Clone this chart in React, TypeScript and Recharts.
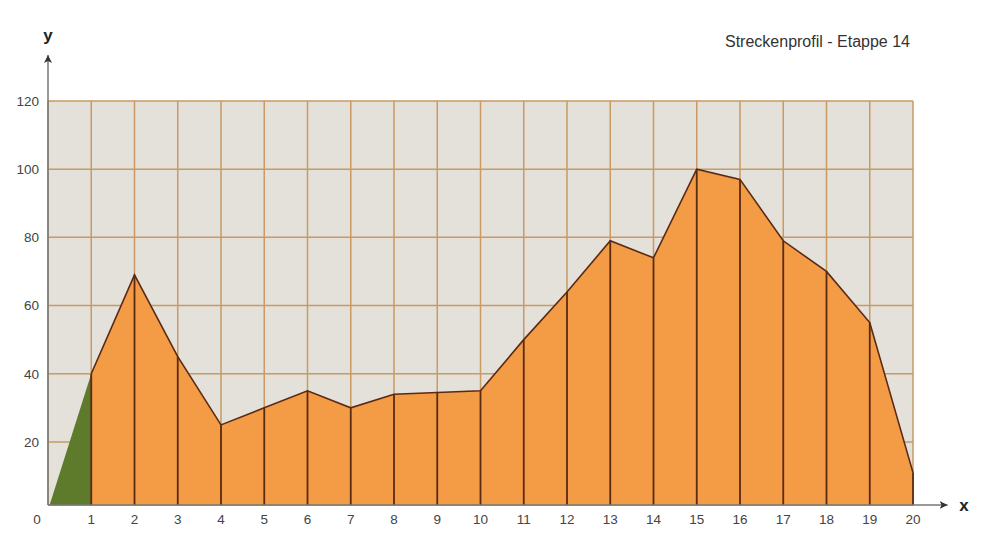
import React from 'react';
import {
  ComposedChart,
  Area,
  XAxis,
  YAxis,
  CartesianGrid,
  ReferenceLine,
} from 'recharts';

// Streckenprofil values
const distances = [0, 1, 2, 3, 4, 5, 6, 7, 8, 9, 10, 11, 12, 13, 14, 15, 16, 17, 18, 19, 20];
const heights = [0, 40, 69, 45, 25, 30, 35, 30, 34, 34.5, 35, 50, 64, 79, 74, 100, 97, 79, 70, 55, 11];
const xTicks = [0, 1, 2, 3, 4, 5, 6, 7, 8, 9, 10, 11, 12, 13, 14, 15, 16, 17, 18, 19, 20];
const yTicks = [20, 40, 60, 80, 100, 120];
const title = 'Streckenprofil - Etappe 14';

// axis bottom sits a little below y=0 grid spacing in the original
const Y_MIN = 1.5;
const Y_MAX = 120;
const X_ARROW = 20.8;
const Y_ARROW = 133.5;

const data = distances.map((x, i) => ({
  x,
  green: x <= 1 ? heights[i] : null,
  orange: x >= 1 ? heights[i] : null,
}));

const FONT = '"Liberation Sans", Arial, sans-serif';

function XTick({ x, y, payload }: any) {
  const shift = payload.value === 0 ? -11 : 0;
  return (
    <text x={x + shift} y={y} dy="0.71em" textAnchor="middle" fontSize={13.5} fill="#444" fontFamily={FONT}>
      {payload.value}
    </text>
  );
}

export default function App() {
  return (
    <div style={{ position: 'absolute', left: 0, top: 0, width: 994, height: 558, background: '#fff', fontFamily: FONT }}>
      <svg width={0} height={0} style={{ position: 'absolute' }}>
        <defs>
          <marker id="axisArrow" markerWidth={10} markerHeight={10} refX={8} refY={4} orient="auto" markerUnits="userSpaceOnUse">
            <path d="M0,0 L8,4 L0,8 L2,4 Z" fill="#333" />
          </marker>
        </defs>
      </svg>

      <div style={{ position: 'absolute', left: 725, top: 32, fontSize: 16, lineHeight: '19px', color: '#333', whiteSpace: 'nowrap' }}>
        {title}
      </div>
      <div style={{ position: 'absolute', left: 38, top: 26, width: 20, textAlign: 'center', fontSize: 17, fontWeight: 'bold', lineHeight: '20px', color: '#222' }}>
        y
      </div>
      <div style={{ position: 'absolute', left: 954, top: 496, width: 20, textAlign: 'center', fontSize: 17, fontWeight: 'bold', lineHeight: '20px', color: '#222' }}>
        x
      </div>

      <ComposedChart
        width={994}
        height={558}
        data={data}
        margin={{ top: 101, right: 81, left: 0, bottom: 0 }}
      >
        <CartesianGrid
          fill="#e4e0da"
          fillOpacity={1}
          stroke="#c99a62"
          strokeWidth={1.5}
          strokeOpacity={1}
        />
        <XAxis
          type="number"
          dataKey="x"
          domain={[0, 20]}
          ticks={xTicks}
          interval={0}
          height={53}
          axisLine={false}
          tickLine={false}
          tickSize={0}
          tickMargin={9}
          tick={<XTick />}
        />
        <YAxis
          type="number"
          domain={[Y_MIN, Y_MAX]}
          allowDataOverflow
          ticks={yTicks}
          interval={0}
          width={48}
          axisLine={false}
          tickLine={false}
          tickSize={0}
          tickMargin={9}
          tick={{ fontSize: 13.5, fill: '#444', fontFamily: FONT }}
        />
        <Area
          type="linear"
          dataKey="green"
          fill="#5d7b2a"
          fillOpacity={1}
          stroke="none"
          connectNulls={false}
          isAnimationActive={false}
          dot={false}
          activeDot={false}
        />
        <Area
          type="linear"
          dataKey="orange"
          fill="#f39b45"
          fillOpacity={1}
          stroke="#5b2a12"
          strokeWidth={1.6}
          connectNulls={false}
          isAnimationActive={false}
          dot={false}
          activeDot={false}
        />
        {distances
          .filter((d) => d >= 1)
          .map((d) => (
            <ReferenceLine
              key={`div-${d}`}
              segment={[
                { x: d, y: Y_MIN },
                { x: d, y: heights[distances.indexOf(d)] },
              ]}
              stroke="#5b2a12"
              strokeWidth={1.8}
              ifOverflow="visible"
            />
          ))}
        <ReferenceLine
          segment={[
            { x: 0, y: Y_MIN },
            { x: X_ARROW, y: Y_MIN },
          ]}
          stroke="#777"
          strokeWidth={1.5}
          ifOverflow="visible"
          markerEnd="url(#axisArrow)"
        />
        <ReferenceLine
          segment={[
            { x: 0, y: Y_MIN },
            { x: 0, y: Y_ARROW },
          ]}
          stroke="#777"
          strokeWidth={1.5}
          ifOverflow="visible"
          markerEnd="url(#axisArrow)"
        />
      </ComposedChart>
    </div>
  );
}
